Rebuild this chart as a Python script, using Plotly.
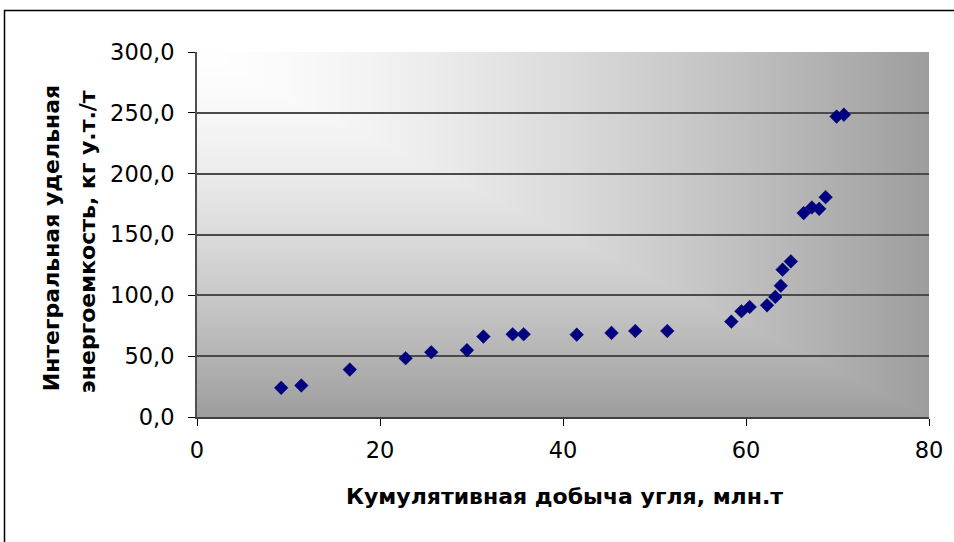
import base64
import struct
import zlib

import numpy as np
import plotly.graph_objects as go

# Cumulative coal output (mln t) vs integral specific energy intensity (kg c.e./t)
cumulative_output = [9.2, 11.4, 16.7, 22.8, 25.6, 29.5, 31.3, 34.5, 35.7, 41.5,
                     45.3, 47.9, 51.4, 58.4, 59.5, 60.4, 62.3, 63.2, 63.8, 64.0,
                     64.9, 66.3, 67.2, 68.0, 68.7, 69.9, 70.7]
energy_intensity = [24.0, 25.9, 39.0, 48.3, 53.2, 54.9, 66.1, 68.0, 68.0, 67.7,
                    69.1, 70.7, 70.7, 78.4, 86.9, 90.4, 91.8, 98.7, 107.9, 121.1,
                    127.9, 167.6, 172.2, 171.1, 180.7, 246.9, 248.5]

x_ticks = [0, 20, 40, 60, 80]
y_ticks = [0, 50, 100, 150, 200, 250, 300]

x_title = "Кумулятивная добыча угля, млн.т"
y_title_lines = ["Интегральная удельная", "энергоемкость, кг у.т./т"]

# Figure geometry in pixels
W, H = 954, 542
L, R, T, B = 197, 929, 52, 417.5
PW, PH = R - L, B - T


def gray_png(arr):
    """Encode a 2-D uint8 array as a grayscale PNG."""
    h, w = arr.shape
    raw = b"".join(b"\x00" + arr[i].tobytes() for i in range(h))

    def chunk(tag, data):
        return (struct.pack(">I", len(data)) + tag + data
                + struct.pack(">I", zlib.crc32(tag + data) & 0xFFFFFFFF))

    ihdr = struct.pack(">IIBBBBB", w, h, 8, 0, 0, 0, 0)
    return (b"\x89PNG\r\n\x1a\n" + chunk(b"IHDR", ihdr)
            + chunk(b"IDAT", zlib.compress(raw, 9)) + chunk(b"IEND", b""))


# Corner gradient for the plot area: white at the top-left, grey towards the far edges
gw, gh = int(PW), int(PH)
u = np.linspace(0, 1, gw)[None, :]
v = np.linspace(0, 1, gh)[:, None]
t = np.maximum(u, v)
shade = np.clip(255 - 97 * t ** 1.45, 0, 255).astype(np.uint8)
bg_src = "data:image/png;base64," + base64.b64encode(gray_png(shade)).decode()


def px_x(px):
    return (px - L) / PW


def px_y(py):
    return (B - py) / PH


fig = go.Figure()
fig.add_trace(go.Scatter(
    x=cumulative_output, y=energy_intensity, mode="markers",
    marker=dict(symbol="diamond", size=10.5, color="#000080",
                line=dict(color="#00006a", width=0.5)),
    showlegend=False, hoverinfo="x+y",
))

tick_font = dict(family="DejaVu Sans", size=22.5, color="#000000")
title_font = dict(family="DejaVu Sans", size=22, color="#000000")

fig.update_layout(
    width=W, height=H,
    margin=dict(l=L, r=W - R, t=T, b=H - B, pad=0),
    paper_bgcolor="#ffffff", plot_bgcolor="#ffffff",
    separators=", ",
    xaxis=dict(range=[0, 80], tickmode="array", tickvals=x_ticks,
               tickformat="d", ticks="outside", ticklen=7, tickwidth=1.2,
               tickcolor="#000000", showgrid=False, zeroline=False,
               showline=True, linecolor="#404040", linewidth=1.5,
               tickfont=tick_font, ticklabelstandoff=5, fixedrange=True),
    yaxis=dict(range=[0, 300], tickmode="array", tickvals=y_ticks,
               tickformat=".1f", ticks="outside", ticklen=7, tickwidth=1.2,
               tickcolor="#000000", showgrid=True, gridcolor="#4a4a4a",
               gridwidth=1.5, zeroline=False, showline=True,
               linecolor="#505050", linewidth=2, tickfont=tick_font,
               ticklabelstandoff=9, fixedrange=True),
    images=[dict(source=bg_src, xref="x", yref="y", x=0, y=300,
                 sizex=80, sizey=300, sizing="stretch", layer="below")],
    shapes=[dict(type="rect", xref="paper", yref="paper",
                 x0=px_x(4.5), x1=px_x(W + 20), y0=px_y(H + 20), y1=px_y(10.5),
                 line=dict(color="#000000", width=1.5), fillcolor="rgba(0,0,0,0)",
                 layer="below")],
    annotations=[
        dict(text="<b>%s</b>" % x_title, xref="paper", yref="paper",
             x=px_x(564.5), y=px_y(497), xanchor="center", yanchor="middle",
             showarrow=False, font=title_font),
        dict(text="<b>%s</b>" % y_title_lines[0], xref="paper", yref="paper",
             x=px_x(51), y=px_y(238.5), xanchor="center", yanchor="middle",
             textangle=-90, showarrow=False, font=title_font),
        dict(text="<b>%s</b>" % y_title_lines[1], xref="paper", yref="paper",
             x=px_x(87.5), y=px_y(242), xanchor="center", yanchor="middle",
             textangle=-90, showarrow=False, font=title_font),
    ],
)

fig.write_html("out.html", config={"displayModeBar": False})
